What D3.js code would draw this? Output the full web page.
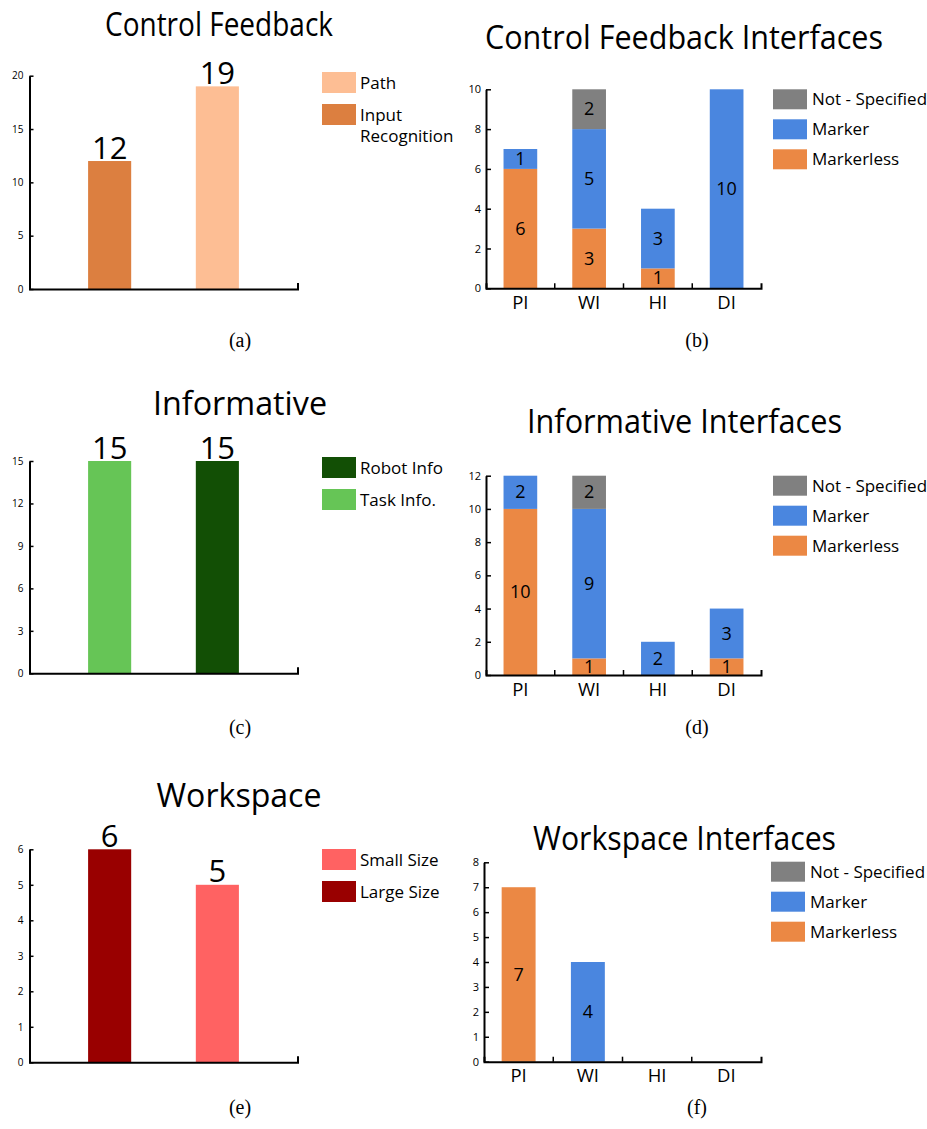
<!DOCTYPE html>
<html><head><meta charset="utf-8">
<script src="https://cdn.jsdelivr.net/npm/d3@7"></script>
<style>
body{margin:0;background:#fff}
svg{display:block}
text{font-family:"Open Sans",sans-serif;fill:#000}
.cap{font-family:"Liberation Serif","DejaVu Serif",serif}
</style>
</head><body>
<svg id="chart" width="927" height="1129"></svg>
<script>
// ---------- data ----------
const cfCategories = ["Input Recognition", "Path"];
const cfValues = [12, 19];
const cfLegend = ["Path", "Input Recognition"];
const cfTicks = [0, 5, 10, 15, 20];

const infCategories = ["Task Info.", "Robot Info"];
const infValues = [15, 15];
const infLegend = ["Robot Info", "Task Info."];
const infTicks = [0, 3, 6, 9, 12, 15];

const wsCategories = ["Large Size", "Small Size"];
const wsValues = [6, 5];
const wsLegend = ["Small Size", "Large Size"];
const wsTicks = [0, 1, 2, 3, 4, 5, 6];

const interfaces = ["PI", "WI", "HI", "DI"];
const seriesNames = ["Markerless", "Marker", "Not - Specified"];
const legendSeries = ["Not - Specified", "Marker", "Markerless"];

const cfiMarkerless = [6, 3, 1, 0];
const cfiMarker = [1, 5, 3, 10];
const cfiNotSpecified = [0, 2, 0, 0];
const cfiTicks = [0, 2, 4, 6, 8, 10];

const infiMarkerless = [10, 1, 0, 1];
const infiMarker = [2, 9, 2, 3];
const infiNotSpecified = [0, 2, 0, 0];
const infiTicks = [0, 2, 4, 6, 8, 10, 12];

const wsiMarkerless = [7, 0, 0, 0];
const wsiMarker = [0, 4, 0, 0];
const wsiNotSpecified = [0, 0, 0, 0];
const wsiTicks = [0, 1, 2, 3, 4, 5, 6, 7, 8];

// ---------- colours ----------
const colors = {
  "Input Recognition": "#dc7f40", "Path": "#fdbe94",
  "Task Info.": "#66c556", "Robot Info": "#124f05",
  "Large Size": "#990000", "Small Size": "#ff6262",
  "Markerless": "#eb8844", "Marker": "#4a86df", "Not - Specified": "#808080"
};

const svg = d3.select("#chart");
const fmt = d3.format("d");

function title(t, cx, by, w) {
  svg.append("text").attr("x", cx).attr("y", by).attr("text-anchor", "middle")
    .attr("font-size", 33).attr("textLength", w).attr("lengthAdjust", "spacingAndGlyphs").text(t);
}
function caption(t, cx, by) {
  svg.append("text").attr("class", "cap").attr("x", cx).attr("y", by).attr("text-anchor", "middle")
    .attr("font-size", 20).text(t);
}
function legend(items, x, top, step, w, h, tx) {
  const g = svg.append("g");
  items.forEach((name, i) => {
    const y0 = top + i * step;
    g.append("rect").attr("x", x).attr("y", y0).attr("width", w).attr("height", h).attr("fill", colors[name]);
    const t = g.append("text").attr("x", tx).attr("y", y0 + h / 2 + 6).attr("font-size", 17);
    if (name === "Input Recognition") {
      t.append("tspan").attr("x", tx).text("Input");
      t.append("tspan").attr("x", tx).attr("dy", 21.5).text("Recognition");
    } else t.text(name);
  });
}
function styleAxis(g, fs) {
  g.select(".domain").attr("stroke", "#000").attr("stroke-width", 2);
  g.selectAll(".tick line").attr("stroke", "#000").attr("stroke-width", 1.5);
  g.selectAll(".tick text").attr("font-size", fs).attr("fill", "#222").attr("font-family", "Open Sans");
}

function simplePanel(o) {
  const x = d3.scaleBand().domain(o.categories).range([o.x0, o.x1]).paddingInner(0.6).paddingOuter(0.544);
  const y = d3.scaleLinear().domain([0, o.max]).range([o.y0, o.y1]);
  const data = o.categories.map((c, i) => ({ c, v: o.values[i] }));
  const g = svg.append("g");
  g.selectAll("rect").data(data).join("rect")
    .attr("x", d => x(d.c)).attr("width", x.bandwidth())
    .attr("y", d => y(d.v)).attr("height", d => y(0) - y(d.v))
    .attr("fill", d => colors[d.c]);
  g.selectAll("text.val").data(data).join("text").attr("class", "val")
    .attr("x", d => x(d.c) + x.bandwidth() / 2).attr("y", d => y(d.v) - 2.5)
    .attr("text-anchor", "middle").attr("font-size", 31).text(d => d.v);
  const ya = svg.append("g").attr("transform", `translate(${o.x0},0)`)
    .call(d3.axisLeft(y).tickValues(o.ticks).tickFormat(fmt).tickSize(-4).tickSizeOuter(0).tickPadding(6));
  styleAxis(ya, 10);
  const xa = svg.append("g").attr("transform", `translate(0,${o.y0})`)
    .call(d3.axisBottom(x).tickValues([]).tickSizeOuter(-6));
  styleAxis(xa, 10);
}

function stackPanel(o) {
  const rows = interfaces.map((c, i) => ({
    cat: c, "Markerless": o.markerless[i], "Marker": o.marker[i], "Not - Specified": o.notSpecified[i]
  }));
  const stacked = d3.stack().keys(seriesNames)(rows);
  const x = d3.scaleBand().domain(interfaces).range([o.x0, o.x1]).paddingInner(0.51).paddingOuter(0.255);
  const y = d3.scaleLinear().domain([0, o.max]).range([o.y0, o.y1]);
  const g = svg.append("g");
  stacked.forEach(s => {
    const segs = s.filter(d => d[1] - d[0] > 0);
    g.selectAll(null).data(segs).join("rect")
      .attr("x", d => x(d.data.cat)).attr("width", x.bandwidth())
      .attr("y", d => y(d[1])).attr("height", d => y(d[0]) - y(d[1]))
      .attr("fill", colors[s.key]);
    g.selectAll(null).data(segs).join("text")
      .attr("x", d => x(d.data.cat) + x.bandwidth() / 2)
      .attr("y", d => (y(d[0]) + y(d[1])) / 2).attr("dy", "0.34em")
      .attr("text-anchor", "middle").attr("font-size", 18).text(d => d[1] - d[0]);
  });
  const ya = svg.append("g").attr("transform", `translate(${o.x0},0)`)
    .call(d3.axisLeft(y).tickValues(o.ticks).tickFormat(fmt).tickSize(-5).tickSizeOuter(0).tickPadding(5));
  styleAxis(ya, 11);
  const xa = svg.append("g").attr("transform", `translate(0,${o.y0})`)
    .call(d3.axisBottom(x).tickSize(0).tickSizeOuter(-5));
  styleAxis(xa, 18.5);
  xa.selectAll(".tick text").attr("y", 20.5).attr("dy", null).attr("fill", "#000");
  const half = (x.step() - x.bandwidth()) / 2;
  xa.selectAll("line.sep").data(interfaces.slice(1)).join("line").attr("class", "sep")
    .attr("x1", d => x(d) - half).attr("x2", d => x(d) - half)
    .attr("y1", 0).attr("y2", -5).attr("stroke", "#000").attr("stroke-width", 1.5);
}

// ---------- panel (a) ----------
title("Control Feedback", 219, 36, 228);
simplePanel({ categories: cfCategories, values: cfValues, max: 20, ticks: cfTicks, x0: 29.5, x1: 297.5, y0: 289, y1: 75.7 });
legend(cfLegend, 322, 72, 32, 34, 21, 360);
caption("(a)", 240, 347);

// ---------- panel (b) ----------
title("Control Feedback Interfaces", 684, 49, 398);
stackPanel({ markerless: cfiMarkerless, marker: cfiMarker, notSpecified: cfiNotSpecified, max: 10, ticks: cfiTicks, x0: 486, x1: 761, y0: 288.3, y1: 89.3 });
legend(legendSeries, 773, 89.3, 30, 34, 20, 812);
caption("(b)", 697, 347);

// ---------- panel (c) ----------
title("Informative", 240, 415, 174);
simplePanel({ categories: infCategories, values: infValues, max: 15, ticks: infTicks, x0: 29.5, x1: 297.5, y0: 673.3, y1: 461 });
legend(infLegend, 322, 457, 32, 34, 21, 360);
caption("(c)", 240, 734);

// ---------- panel (d) ----------
title("Informative Interfaces", 684.5, 433, 315);
stackPanel({ markerless: infiMarkerless, marker: infiMarker, notSpecified: infiNotSpecified, max: 12, ticks: infiTicks, x0: 486, x1: 761, y0: 675, y1: 475.7 });
legend(legendSeries, 773, 475.7, 30, 34, 20, 812);
caption("(d)", 697, 734);

// ---------- panel (e) ----------
title("Workspace", 239, 807, 165);
simplePanel({ categories: wsCategories, values: wsValues, max: 6, ticks: wsTicks, x0: 29.5, x1: 297.5, y0: 1062.3, y1: 849.3 });
legend(wsLegend, 322, 849, 32, 34, 21, 360);
caption("(e)", 240, 1114);

// ---------- panel (f) ----------
title("Workspace Interfaces", 684.5, 850, 303);
stackPanel({ markerless: wsiMarkerless, marker: wsiMarker, notSpecified: wsiNotSpecified, max: 8, ticks: wsiTicks, x0: 484, x1: 761, y0: 1061.7, y1: 862.3 });
legend(legendSeries, 771, 861.7, 30, 34, 20, 810);
caption("(f)", 697, 1114);
</script>
</body></html>
